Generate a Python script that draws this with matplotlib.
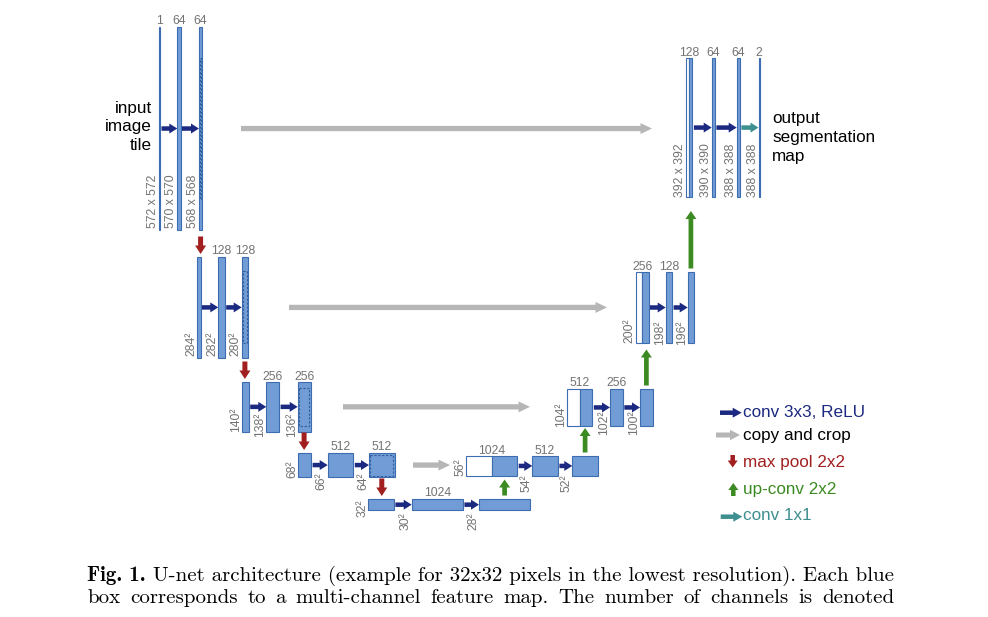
import re
import matplotlib
matplotlib.use("Agg")
import matplotlib.pyplot as plt
from matplotlib.patches import Rectangle, FancyArrow

# ---------------- data ----------------
enc1_channels = [1, 64, 64]
enc2_channels = [64, 128, 128]
enc3_channels = [128, 256, 256]
enc4_channels = [256, 512, 512]
bott_channels = [512, 1024, 1024]
dec4_channels = [1024, 512, 512]
dec3_channels = [512, 256, 256]
dec2_channels = [256, 128, 128]
dec1_channels = [128, 64, 64, 2]

enc1_labels = ["1", "64", "64"]
enc2_labels = ["", "128", "128"]
enc3_labels = ["", "256", "256"]
enc4_labels = ["", "512", "512"]
bott_labels = ["", "1024", ""]
dec4_labels = ["1024", "512", ""]
dec3_labels = ["512", "256", ""]
dec2_labels = ["256", "128", ""]
dec1_labels = ["128", "64", "64", "2"]

enc1_sizes = ["572 x 572", "570 x 570", "568 x 568"]
enc2_sizes = ["284²", "282²", "280²"]
enc3_sizes = ["140²", "138²", "136²"]
enc4_sizes = ["68²", "66²", "64²"]
bott_sizes = ["32²", "30²", "28²"]
dec4_sizes = ["56²", "54²", "52²"]
dec3_sizes = ["104²", "102²", "100²"]
dec2_sizes = ["200²", "198²", "196²"]
dec1_sizes = ["392 x 392", "390 x 390", "388 x 388", "388 x 388"]

input_text = ["input", "image", "tile"]
output_text = ["output", "segmentation", "map"]
legend_labels = ["conv 3x3, ReLU", "copy and crop", "max pool 2x2", "up-conv 2x2", "conv 1x1"]
caption_bold = "Fig. 1."
caption_line1 = "U-net architecture (example for 32x32 pixels in the lowest resolution). Each blue"
caption_line2 = "box corresponds to a multi-channel feature map. The number of channels is denoted"

# ---------------- layout / style ----------------
W, H = 988, 617
CH_SCALE = 0.05      # px per channel (box width)
PX_SCALE = 0.355     # px per pixel of spatial size (box height)
FILL = "#729cd5"
EDGE = "#3c6db0"
DASH = "#2f5c9c"
NAVY = "#1b2a80"
GREY = "#b6b6b6"
RED = "#a11f1f"
GREEN = "#3b8a22"
TEAL = "#3e8f8f"
NUM = "#737373"
SANS = "Liberation Sans"

enc1_x, enc1_top, enc1_sb = [158.8, 177.3, 199.0], 27, [228, 228, 228]
enc2_x, enc2_top, enc2_sb = [197.3, 218.3, 241.7], 257, [356, 356, 356]
enc3_x, enc3_top, enc3_sb = [242.3, 266.3, 297.7], 382, [432, 437, 437]
enc4_x, enc4_top, enc4_sb = [298.3, 327.7, 369.0], 453, [478, 490, 490]
bott_x, bott_top, bott_sb = [368.3, 411.7, 479.0], 499, [517, 530, 530]
dec4_x, dec4_top, dec4_sb = [466.0, 532.3, 572.3], 456, [476, 492, 492]
dec3_x, dec3_top, dec3_sb = [566.7, 610.0, 640.0], 389, [427, 435, 435]
dec2_x, dec2_top, dec2_sb = [635.7, 665.7, 687.7], 272, [343, 345, 345]
dec1_x, dec1_top, dec1_sb = [686.0, 711.7, 736.7, 758.5], 58, [197, 197, 197, 197]

copy_x = [(241, 652), (289, 607), (343, 530), (413, 450)]
upconv_tip = [479.5, 428, 349.5, 211]

fig = plt.figure(figsize=(W / 100, H / 100), dpi=100)
ax = fig.add_axes([0, 0, 1, 1])
ax.set_xlim(0, W)
ax.set_ylim(H, 0)
ax.axis("off")


def arrow(x0, y0, x1, y1, color, w, hw, hl):
    ax.add_patch(FancyArrow(x0, y0, x1 - x0, y1 - y0, width=w, head_width=hw,
                            head_length=hl, length_includes_head=True,
                            color=color, lw=0))


def px_of(label):
    return int(re.match(r"\d+", label).group())


def draw_stage(xs, top, channels, labels, sizes, sbot, concat=False, last_teal=False):
    h = px_of(sizes[0]) * PX_SCALE
    mid = top + h / 2
    spans = []
    for i, (x, ch) in enumerate(zip(xs, channels)):
        w = max(ch * CH_SCALE, 1.2)
        if concat and i == 0:
            ax.add_patch(Rectangle((x, top), w / 2, h, fc="white", ec=EDGE, lw=0.8))
            ax.add_patch(Rectangle((x + w / 2, top), w / 2, h, fc=FILL, ec=EDGE, lw=0.8))
        else:
            ax.add_patch(Rectangle((x, top), w, h, fc=FILL, ec=EDGE, lw=0.8))
        spans.append((x, x + w))
        if labels[i]:
            ax.text(x + w / 2, top - 5.5, labels[i], ha="center", va="center",
                    fontsize=8.8, color=NUM, family=SANS)
        ax.text(x - 6, sbot[i], sizes[i], rotation=90, ha="center", va="bottom",
                fontsize=8.8, color=NUM, family=SANS)
    for i in range(len(xs) - 1):
        c = TEAL if (last_teal and i == len(xs) - 2) else NAVY
        arrow(spans[i][1] + 1.5, mid, spans[i + 1][0], mid, c, 4.5, 10, 8)
    return spans, top, h, mid


def crop_box(stage, crop_px, full_px):
    spans, top, h, mid = stage
    x0, x1 = spans[-1]
    ch = h * crop_px / full_px
    ax.add_patch(Rectangle((x0 + 1.2, mid - ch / 2), x1 - x0 - 2.4, ch, fc="none",
                           ec=DASH, lw=0.8, ls=(0, (2, 1.5))))


e1 = draw_stage(enc1_x, enc1_top, enc1_channels, enc1_labels, enc1_sizes, enc1_sb)
e2 = draw_stage(enc2_x, enc2_top, enc2_channels, enc2_labels, enc2_sizes, enc2_sb)
e3 = draw_stage(enc3_x, enc3_top, enc3_channels, enc3_labels, enc3_sizes, enc3_sb)
e4 = draw_stage(enc4_x, enc4_top, enc4_channels, enc4_labels, enc4_sizes, enc4_sb)
b5 = draw_stage(bott_x, bott_top, bott_channels, bott_labels, bott_sizes, bott_sb)
d4 = draw_stage(dec4_x, dec4_top, dec4_channels, dec4_labels, dec4_sizes, dec4_sb, concat=True)
d3 = draw_stage(dec3_x, dec3_top, dec3_channels, dec3_labels, dec3_sizes, dec3_sb, concat=True)
d2 = draw_stage(dec2_x, dec2_top, dec2_channels, dec2_labels, dec2_sizes, dec2_sb, concat=True)
d1 = draw_stage(dec1_x, dec1_top, dec1_channels, dec1_labels, dec1_sizes, dec1_sb,
                concat=True, last_teal=True)

encs = [e1, e2, e3, e4, b5]
decs = [d1, d2, d3, d4]
enc_size_lists = [enc1_sizes, enc2_sizes, enc3_sizes, enc4_sizes]
dec_size_lists = [dec1_sizes, dec2_sizes, dec3_sizes, dec4_sizes]

# crop regions (dashed)
for enc, esz, dsz in zip(encs[:4], enc_size_lists, dec_size_lists):
    crop_box(enc, px_of(dsz[0]), px_of(esz[-1]))

# max pool arrows
for a, b in zip(encs[:-1], encs[1:]):
    x = sum(a[0][-1]) / 2
    end = b[1] - 3
    arrow(x, end - 17.5, x, end, RED, 5, 11, 8.5)

# copy and crop arrows
for enc, (xa, xb) in zip(encs[:4], copy_x):
    arrow(xa, enc[3], xb, enc[3], GREY, 5.3, 11, 11.5)

# up-conv arrows
ups = [b5, d4, d3, d2]
for low, tip in zip(ups, upconv_tip):
    x = sum(low[0][-1]) / 2
    arrow(x, low[1] - 3.5, x, tip, GREEN, 4.7, 11, 8)

# input / output text
for t, yb in zip(input_text, [112.7, 131.5, 150.2]):
    ax.text(151.7, yb, t, ha="right", va="baseline", fontsize=12.3, family=SANS, color="black")
for t, yb in zip(output_text, [122.5, 142.0, 161.0]):
    ax.text(772.0, yb, t, ha="left", va="baseline", fontsize=12.3, family=SANS, color="black")

# legend
arrow(720, 412.7, 741.7, 412.7, NAVY, 4.5, 10, 9)
arrow(716, 435, 740, 435, GREY, 5, 10.5, 10)
arrow(732.7, 455, 732.7, 467.5, RED, 4.5, 10, 7)
arrow(733.3, 496, 733.3, 483, GREEN, 4.5, 10, 7)
arrow(720.7, 516.7, 742.3, 516.7, TEAL, 4.5, 10, 9)
leg_colors = [NAVY, "black", RED, GREEN, TEAL]
leg_x = [742.7, 742.7, 743.3, 743.3, 743.3]
leg_y = [417.3, 440.0, 466.7, 494.3, 520.0]
for lab, c, lx, ly in zip(legend_labels, leg_colors, leg_x, leg_y):
    ax.text(lx, ly, lab, ha="left", va="baseline", fontsize=12.3, family=SANS, color=c)

# caption (Computer Modern), sized so line 1 spans the text block
renderer = fig.canvas.get_renderer()
CAP_X0, CAP_X1 = 87, 894
Y1, Y2 = 581, 603

probe_b = ax.text(0, Y1, caption_bold, family="cmb10", fontsize=10, va="baseline")
probe_r = ax.text(0, Y1, " " + caption_line1, family="cmr10", fontsize=10, va="baseline")
w10 = probe_b.get_window_extent(renderer).width + probe_r.get_window_extent(renderer).width
cap_size = 10 * (CAP_X1 - CAP_X0 - 1.5) / w10
probe_b.remove()
probe_r.remove()

tb = ax.text(CAP_X0, Y1, caption_bold, family="cmb10", fontsize=cap_size,
             va="baseline", ha="left", color="black")
wb = tb.get_window_extent(renderer).width
ax.text(CAP_X0 + wb, Y1, " " + caption_line1, family="cmr10", fontsize=cap_size,
        va="baseline", ha="left", color="black")

# line 2: justified word by word
words2 = caption_line2.split()
texts2 = [ax.text(0, Y2, w, family="cmr10", fontsize=cap_size, va="baseline",
                  ha="left", color="black") for w in words2]
widths2 = [t.get_window_extent(renderer).width for t in texts2]
gap2 = (CAP_X1 - CAP_X0 - sum(widths2)) / (len(words2) - 1)
xpos = CAP_X0
for t, wd in zip(texts2, widths2):
    t.set_x(xpos)
    xpos += wd + gap2

fig.savefig("out.png", dpi=100)
